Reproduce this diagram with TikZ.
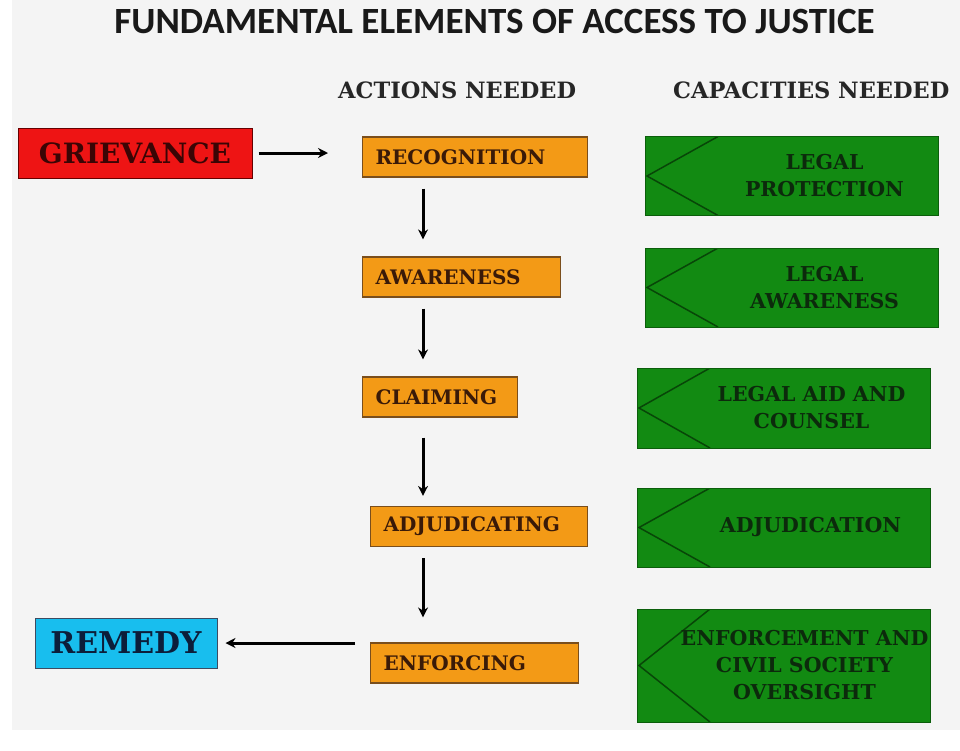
\documentclass[tikz,border=0pt]{standalone}
\usepackage{fontspec}
\setmainfont{DejaVu Serif}
\newfontfamily\titlefont{Carlito}
\usetikzlibrary{arrows.meta}

\definecolor{slidebg}{HTML}{F4F4F4}
\definecolor{grievred}{HTML}{EE1414}
\definecolor{grievtext}{HTML}{3A0505}
\definecolor{actorange}{HTML}{F39A16}
\definecolor{actborder}{HTML}{7A4E1C}
\definecolor{acttext}{HTML}{3A1A08}
\definecolor{capgreen}{HTML}{128A12}
\definecolor{capborder}{HTML}{0B5E0B}
\definecolor{captext}{HTML}{0C2A0C}
\definecolor{remblue}{HTML}{18BEEE}
\definecolor{remtext}{HTML}{0C1E3A}

\tikzstyle{header} = [inner sep=0pt, text=black!85, font=\bfseries\fontsize{22.5}{26}\selectfont]
\tikzstyle{grievbox} = [rectangle, minimum width=234pt, minimum height=50pt, draw=black!60!red, line width=1pt, fill=grievred, text=grievtext, font=\bfseries\fontsize{28}{32}\selectfont]
\tikzstyle{remedybox} = [rectangle, minimum width=182pt, minimum height=50pt, draw=remtext!80, line width=1pt, fill=remblue, text=remtext, font=\bfseries\fontsize{30}{34}\selectfont]
\tikzstyle{action} = [rectangle, anchor=west, minimum height=40pt, inner xsep=13pt, align=left, draw=actborder, line width=1.2pt, fill=actorange, text=acttext, font=\bfseries\fontsize{20}{23}\selectfont]
\tikzstyle{capacity} = [rectangle, minimum width=293pt, minimum height=79pt, draw=capborder, line width=1pt, fill=capgreen,
  path picture={\draw[capborder!75!black, line width=1.5pt]
    ([xshift=73pt]path picture bounding box.north west) -- ([xshift=2pt]path picture bounding box.west)
    -- ([xshift=73pt]path picture bounding box.south west);}]
\tikzstyle{captext} = [align=center, text=captext, font=\bfseries\fontsize{20.5}{27}\selectfont]
\tikzstyle{arrow} = [line width=3pt, ->, >={Stealth[length=10pt, width=10pt]}]

\begin{document}
\begin{tikzpicture}[x=1pt, y=-1pt]
  % slide background
  \fill[white] (0,0) rectangle (960,750);
  \fill[slidebg] (12,0) rectangle (960,730);
  \useasboundingbox (0,0) rectangle (960,750);

  \node[font=\titlefont\bfseries\fontsize{37}{40}\selectfont, text=black!90, anchor=base] (title) at (494.5,33) {FUNDAMENTAL ELEMENTS OF ACCESS TO JUSTICE};
  \node[header, anchor=base west] (acts) at (338,98) {ACTIONS NEEDED};
  \node[header, anchor=base west] (caps) at (673,98) {CAPACITIES NEEDED};

  % actions column
  \node[action, text width=199pt] (rec) at (362,157) {RECOGNITION};
  \node[action, text width=172pt] (awa) at (362,277) {AWARENESS};
  \node[action, text width=129pt] (cla) at (362,397) {CLAIMING};
  \node[action, text width=191pt] (adj) at (370,526.5) {ADJUDICATING};
  \node[action, text width=182pt] (enf) at (370,663) {ENFORCING};

  \node[grievbox] (griev) at (135,153) {GRIEVANCE};
  \node[remedybox] (rem) at (126,643) {REMEDY};

  % capacities column
  \node[capacity] (c1) at (791.5,176) {};
  \node[capacity] (c2) at (791.5,287.5) {};
  \node[capacity, minimum height=80pt] (c3) at (783.5,408) {};
  \node[capacity] (c4) at (783.5,527.5) {};
  \node[capacity, minimum height=113pt] (c5) at (783.5,665.5) {};

  \node[captext] (c1t) at ([xshift=33pt]c1.center) {LEGAL\\PROTECTION};
  \node[captext] (c2t) at ([xshift=33pt]c2.center) {LEGAL\\AWARENESS};
  \node[captext] (c3t) at ([xshift=28pt]c3.center) {LEGAL AID AND\\COUNSEL};
  \node[captext] (c4t) at ([xshift=27pt]c4.center) {ADJUDICATION};
  \node[captext] (c5t) at ([xshift=21pt]c5.center) {ENFORCEMENT AND\\CIVIL SOCIETY\\OVERSIGHT};

  % flow arrows
  \coordinate (col) at (423,0);
  \draw [arrow, shorten <=6pt, shorten >=34pt] (griev.east) -- (griev.east -| rec.west);
  \foreach \a/\b/\s/\e in {rec/awa/11/17, awa/cla/11/17, cla/adj/20/10, adj/enf/11/25}
    \draw [arrow, shorten <=\s pt, shorten >=\e pt] (\a.south -| col) -- (\b.north -| col);
  \draw [arrow, shorten <=15pt, shorten >=8pt] (enf.west |- rem.east) -- (rem.east);

\end{tikzpicture}
\end{document}
